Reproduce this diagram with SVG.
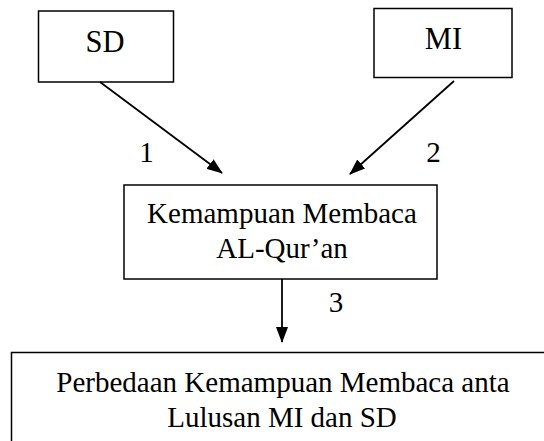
<svg xmlns="http://www.w3.org/2000/svg" width="544" height="441" viewBox="0 0 544 441">
<style>
.box{fill:#fff;stroke:#000;stroke-width:1.5}
.t{font-family:"Liberation Serif","Times New Roman",serif;font-size:29px;fill:#000;text-anchor:middle}
.big{font-size:30.5px}
.c{stroke:#000;stroke-width:1.8;fill:none;marker-end:url(#ah)}
</style>
<defs>
<marker id="ah" markerWidth="16" markerHeight="12" refX="15" refY="6" orient="auto" markerUnits="userSpaceOnUse">
<path d="M0,0 L16,6 L0,12 Z" fill="#000"/>
</marker>
</defs>
<rect width="544" height="441" fill="#fff"/>
<g id="sd">
<rect class="box" x="38.5" y="11" width="135" height="71"/>
<text class="t big" x="105" y="52">SD</text>
</g>
<g id="mi">
<rect class="box" x="374" y="8.5" width="138" height="69"/>
<text class="t big" x="443.5" y="48.5">MI</text>
</g>
<g id="kemampuan">
<rect class="box" x="124" y="185" width="313" height="94"/>
<text class="t" x="282" y="223">Kemampuan Membaca</text>
<text class="t" x="282" y="258">AL-Qur’an</text>
</g>
<g id="perbedaan">
<rect class="box" x="11.5" y="352.5" width="540" height="100"/>
<text class="t" x="283" y="391.5">Perbedaan Kemampuan Membaca anta</text>
<text class="t" x="282" y="426.5">Lulusan MI dan SD</text>
</g>
<g id="connectors">
<line class="c" x1="100" y1="82" x2="222" y2="173"/>
<line class="c" x1="454" y1="81" x2="350" y2="174"/>
<line class="c" x1="282" y1="279" x2="282" y2="342"/>
<text class="t" x="146.5" y="162">1</text>
<text class="t" x="433.5" y="162">2</text>
<text class="t" x="336" y="312">3</text>
</g>
</svg>
